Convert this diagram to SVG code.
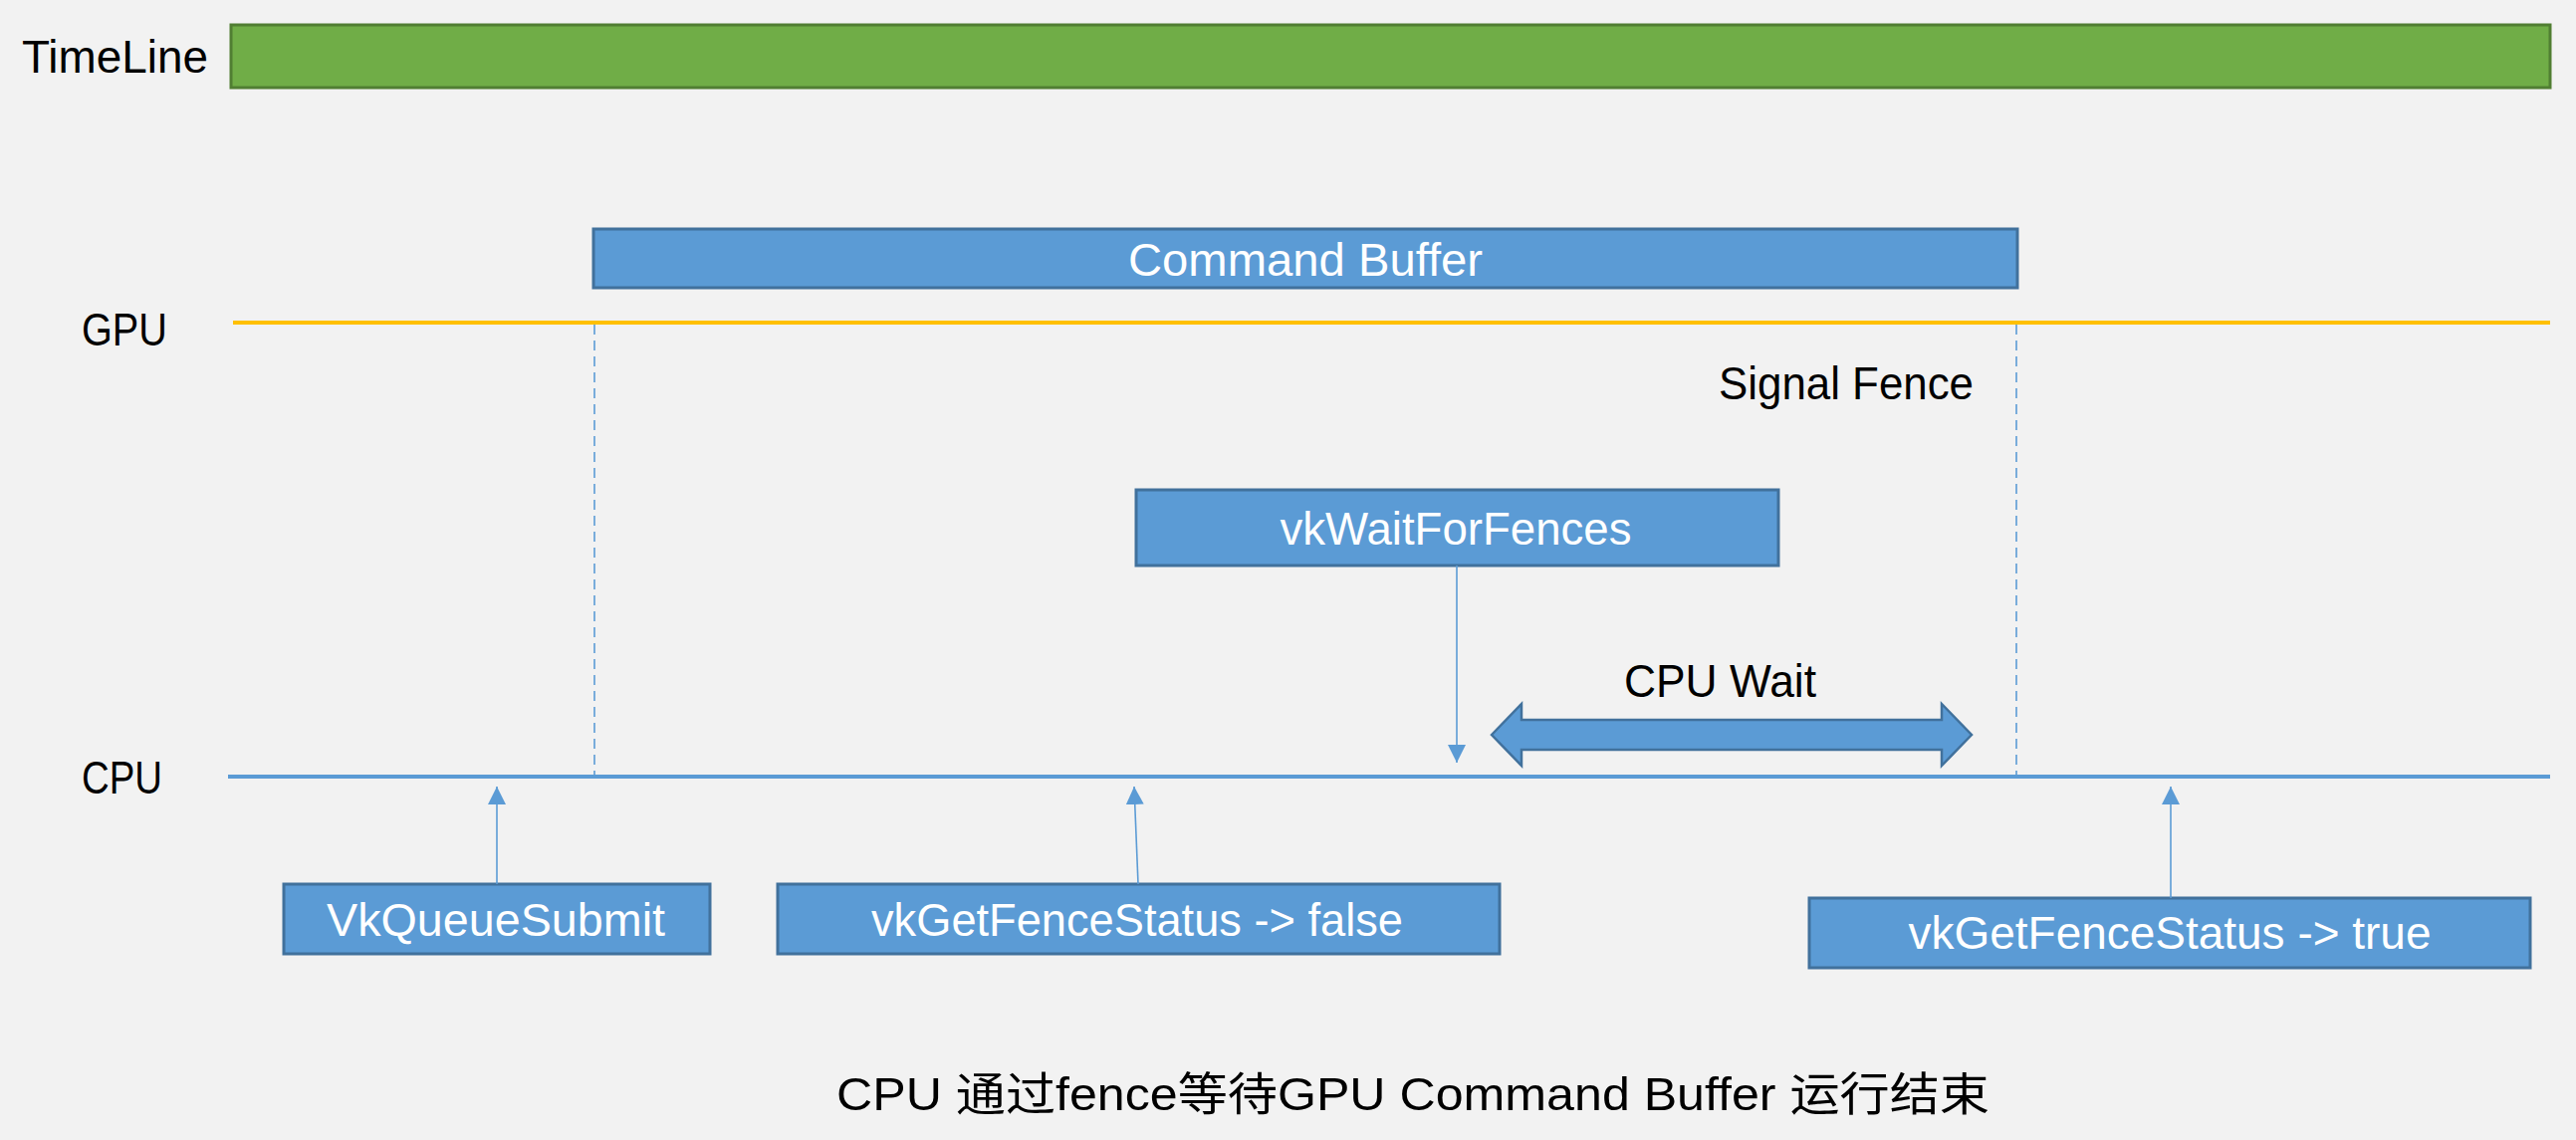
<svg xmlns="http://www.w3.org/2000/svg" width="2587" height="1145" viewBox="0 0 2587 1145">
<defs>
<style>
.lbl{font-family:"Liberation Sans",Arial,sans-serif;font-size:46px;fill:#000}
.btxt{font-family:"Liberation Sans",Arial,sans-serif;font-size:46px;fill:#fff;text-anchor:middle}
.box{fill:#5B9BD5;stroke:#41719C;stroke-width:3}
.conn{stroke:#5B9BD5;stroke-width:1.6;fill:none}
.dash{stroke:#5B9BD5;stroke-width:1.6;stroke-dasharray:10 6;fill:none}
</style>
<marker id="ah" markerUnits="userSpaceOnUse" markerWidth="18" markerHeight="18" viewBox="0 0 10 10" refX="10" refY="5" orient="auto">
<path d="M0,0 L10,5 L0,10 z" fill="#5B9BD5"/>
</marker>
</defs>
<rect x="0" y="0" width="2587" height="1145" fill="#F2F2F2"/>

<g id="timeline">
<text class="lbl" x="22" y="73" textLength="187" lengthAdjust="spacingAndGlyphs">TimeLine</text>
<rect x="232" y="25" width="2329" height="63" fill="#70AD47" stroke="#507E32" stroke-width="3"/>
</g>

<g id="gpu-lane">
<text class="lbl" x="82" y="347" textLength="86" lengthAdjust="spacingAndGlyphs">GPU</text>
<line x1="234" y1="324" x2="2561" y2="324" stroke="#FFC000" stroke-width="4"/>
</g>

<g id="cpu-lane">
<text class="lbl" x="82" y="797" textLength="81" lengthAdjust="spacingAndGlyphs">CPU</text>
<line x1="229" y1="780" x2="2561" y2="780" stroke="#5B9BD5" stroke-width="4"/>
</g>

<g id="command-buffer">
<rect class="box" x="596" y="230" width="1430" height="59"/>
<text class="btxt" x="1311" y="277" textLength="356" lengthAdjust="spacingAndGlyphs">Command Buffer</text>
</g>

<g id="signal-fence">
<text class="lbl" x="1726" y="401" textLength="256" lengthAdjust="spacingAndGlyphs">Signal Fence</text>
</g>

<g id="vkWaitForFences">
<rect class="box" x="1141" y="492" width="645" height="76"/>
<text class="btxt" x="1462" y="547" textLength="353" lengthAdjust="spacingAndGlyphs">vkWaitForFences</text>
</g>

<g id="cpu-wait">
<text class="lbl" x="1631" y="700" textLength="193" lengthAdjust="spacingAndGlyphs">CPU Wait</text>
<polygon points="1498,738 1528,707 1528,723 1950,723 1950,707 1980,738 1950,769 1950,753 1528,753 1528,769" fill="#5B9BD5" stroke="#41719C" stroke-width="2.5"/>
</g>

<g id="vkQueueSubmit">
<rect class="box" x="285" y="888" width="428" height="70"/>
<text class="btxt" x="498" y="940" textLength="340" lengthAdjust="spacingAndGlyphs">VkQueueSubmit</text>
</g>

<g id="vkGetFenceStatus-false">
<rect class="box" x="781" y="888" width="725" height="70"/>
<text class="btxt" x="1142" y="940" textLength="534" lengthAdjust="spacingAndGlyphs">vkGetFenceStatus -&gt; false</text>
</g>

<g id="vkGetFenceStatus-true">
<rect class="box" x="1817" y="902" width="724" height="70"/>
<text class="btxt" x="2179" y="953" textLength="525" lengthAdjust="spacingAndGlyphs">vkGetFenceStatus -&gt; true</text>
</g>

<g id="connectors">
<line class="dash" x1="597" y1="326" x2="597" y2="778"/>
<line class="dash" x1="2025" y1="326" x2="2025" y2="778"/>
<line class="conn" x1="1463" y1="568" x2="1463" y2="766" marker-end="url(#ah)"/>
<line class="conn" x1="499" y1="888" x2="499" y2="790" marker-end="url(#ah)"/>
<line class="conn" x1="1143" y1="888" x2="1139" y2="790" marker-end="url(#ah)"/>
<line class="conn" x1="2180" y1="902" x2="2180" y2="790" marker-end="url(#ah)"/>
</g>

<g id="caption">
<text x="840" y="1115" font-family="'Liberation Sans','Noto Sans CJK SC',sans-serif" font-size="46" fill="#000" textLength="1158" lengthAdjust="spacingAndGlyphs">CPU 通过fence等待GPU Command Buffer 运行结束</text>
</g>
</svg>
